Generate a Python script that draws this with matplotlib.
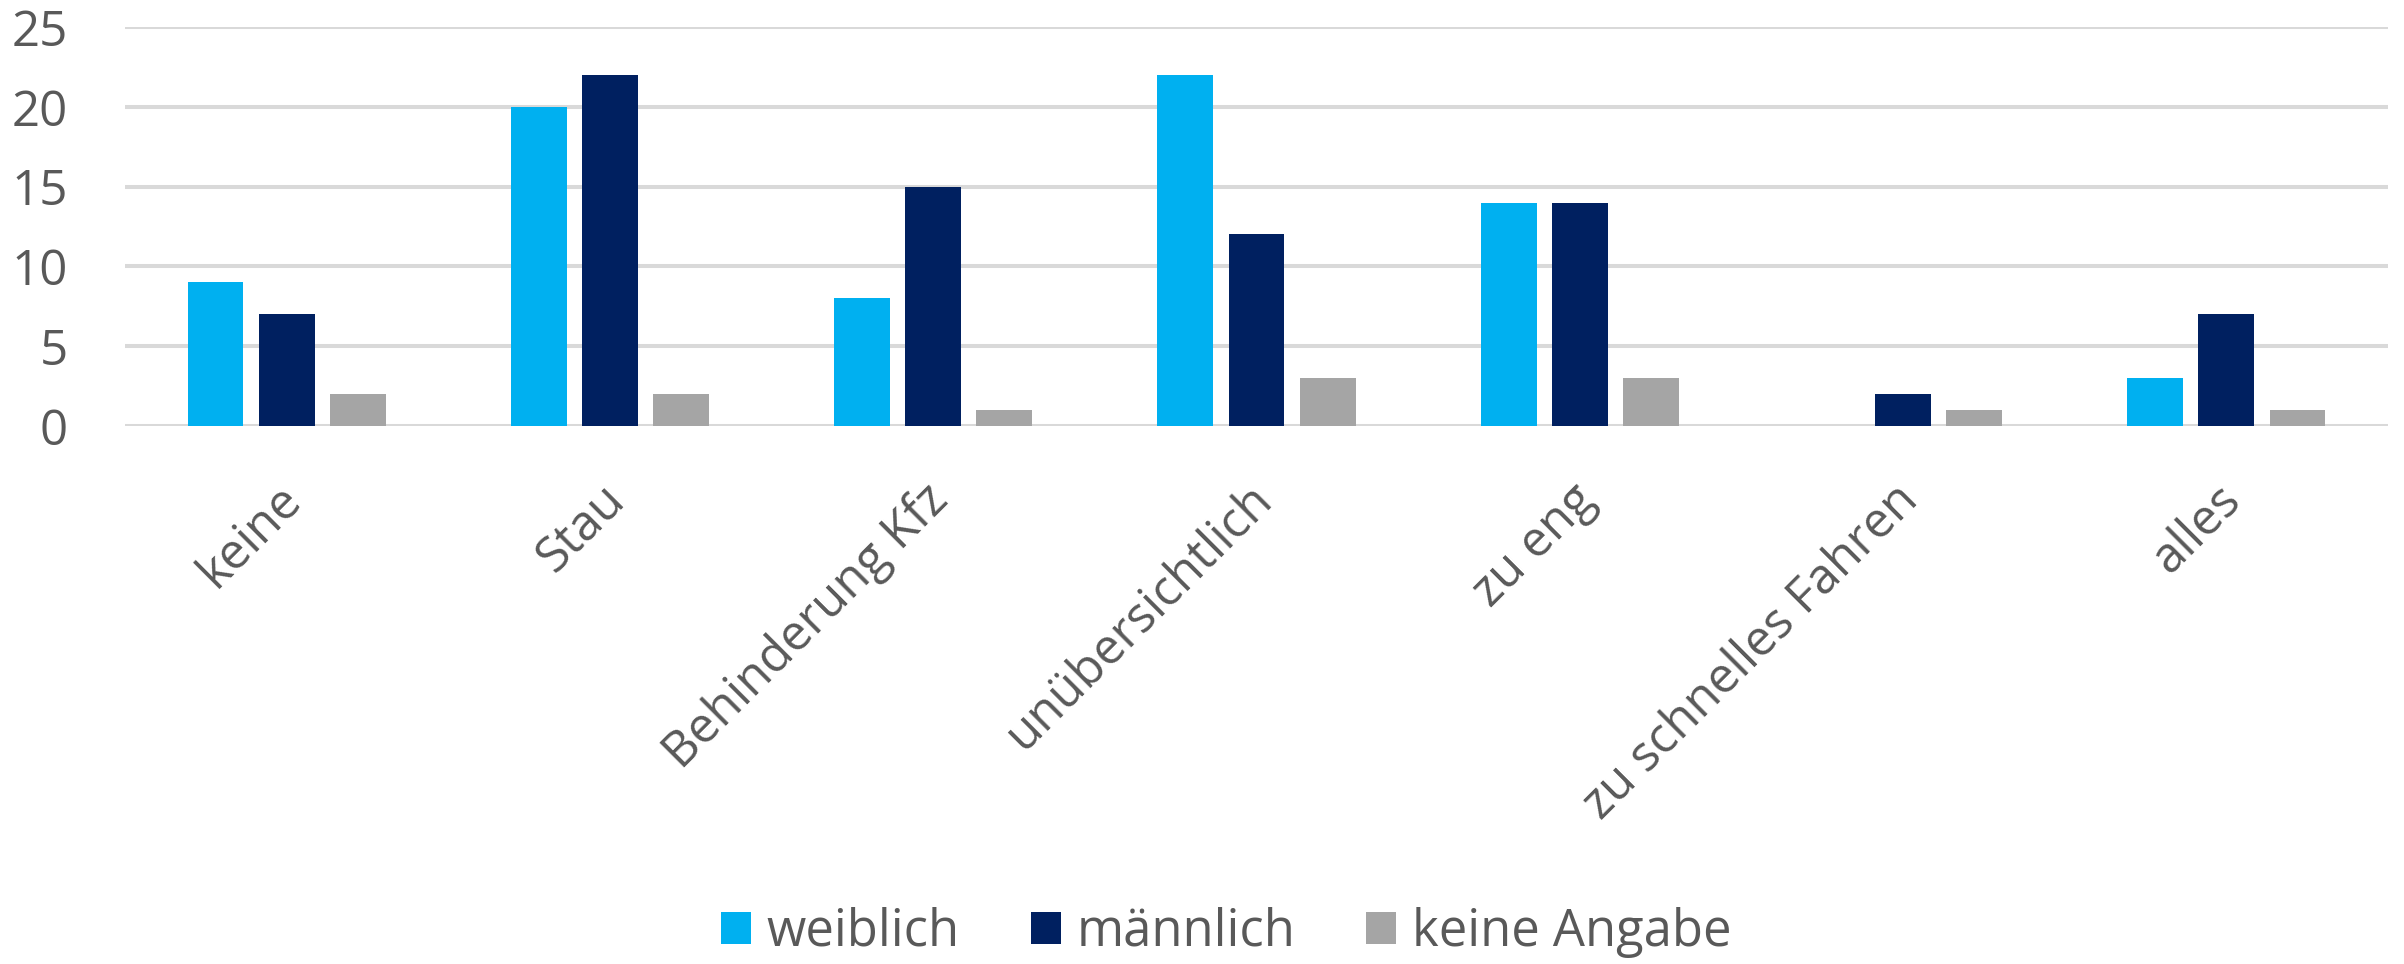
import matplotlib
matplotlib.use("Agg")
import matplotlib.pyplot as plt
import numpy as np
from matplotlib.transforms import ScaledTranslation

categories = ["keine", "Stau", "Behinderung Kfz", "unübersichtlich", "zu eng",
              "zu schnelles Fahren", "alles"]
series_names = ["weiblich", "männlich", "keine Angabe"]
weiblich = [9, 20, 8, 22, 14, 0, 3]
maennlich = [7, 22, 15, 12, 14, 2, 7]
keine_angabe = [2, 2, 1, 3, 3, 1, 1]
colors = ["#00B0F0", "#002060", "#A5A5A5"]

plt.rcParams['font.family'] = ['Open Sans', 'DejaVu Sans']

W, H = 2404, 964
fig = plt.figure(figsize=(W / 100, H / 100), dpi=100)
ax = fig.add_axes([125 / W, 1 - 426 / H, (2388 - 125) / W, (426 - 27) / H])

x = np.arange(len(categories))
bw = 0.173
step = 0.22
for i, (vals, name, c) in enumerate(zip([weiblich, maennlich, keine_angabe], series_names, colors)):
    ax.bar(x + (i - 1) * step, vals, width=bw, color=c, label=name, zorder=3)

ax.set_xlim(-0.5, len(categories) - 0.5)
ax.set_ylim(0, 25)
ax.set_yticks([0, 5, 10, 15, 20, 25])
ax.yaxis.grid(True, color="#D9D9D9", linewidth=2.9, zorder=0)
ax.set_axisbelow(True)
for s in ax.spines.values():
    s.set_visible(False)

ax.tick_params(axis='y', length=0, pad=41, labelsize=35.5, labelcolor="#595959")
ax.tick_params(axis='x', length=0, pad=48, labelsize=35.5, labelcolor="#595959")
ax.set_xticks(x)
ax.set_xticklabels(categories, rotation=45, ha='right', va='center', rotation_mode='anchor')
for lbl in ax.get_xticklabels():
    lbl.set_transform(lbl.get_transform() + ScaledTranslation(8 / 100, 0, fig.dpi_scale_trans))

fig.legend(loc='center', bbox_to_anchor=(1226 / W, 1 - 932 / H), ncol=3, frameon=False,
           fontsize=36.5, labelcolor="#595959", handlelength=0.6, handleheight=0.6,
           handletextpad=0.3, columnspacing=1.4)

fig.savefig("out.png", dpi=100, facecolor="white")
